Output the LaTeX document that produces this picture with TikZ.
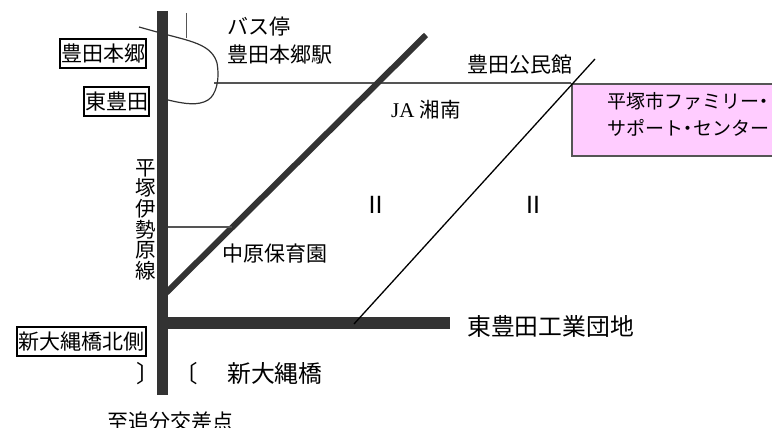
\documentclass[tikz,border=0pt]{standalone}
\usepackage{fontspec}
\setmainfont{Noto Sans CJK JP}
\newfontfamily\latinserif{Liberation Serif}
\newfontfamily\latinsans{Liberation Sans}
\definecolor{roadgray}{HTML}{333333}
\definecolor{thingray}{HTML}{555555}
\definecolor{pinkfill}{HTML}{FFCCFF}
\newcommand{\fs}[1]{\fontsize{#1}{#1}\selectfont}
\newcommand{\narrowdot}{\makebox[10pt]{・}}
\tikzset{
  road/.style={draw=roadgray,line width=11.5pt},
  midroad/.style={draw=roadgray,line width=6pt},
  thinroad/.style={draw=thingray,line width=1.4pt},
  railline/.style={draw=black,line width=1.3pt},
  station/.style={draw=black,line width=2pt,inner sep=0pt,fill=white,font=\fs{21}},
  lbl/.style={inner sep=0pt,anchor=west,font=\fs{21}},
  biglbl/.style={inner sep=0pt,anchor=west,font=\fs{23.8}},
  pinklbl/.style={inner sep=0pt,anchor=west,font=\fs{19}},
  marklbl/.style={inner sep=0pt,font=\latinsans\fs{25}},
  pinkbox/.style={draw=thingray,line width=1.6pt,fill=pinkfill}
}
\begin{document}
\begin{tikzpicture}[x=1pt,y=-1pt]
\clip (0,0) rectangle (772,428);
\fill[white] (0,0) rectangle (772,428);
% named points
\coordinate (vtop) at (162.5,11);
\coordinate (vbot) at (162.5,395);
\coordinate (hleft) at (157,323);
\coordinate (hright) at (450,323);
\coordinate (dstart) at (166,293);
\coordinate (dend) at (426,35);
\coordinate (tstart) at (354,324);
\coordinate (tend) at (595,59);
\coordinate (citystart) at (214,83);
\coordinate (branchstart) at (168,227);
\coordinate (branchend) at (232,227);
\coordinate (stoptop) at (186.5,13);
\coordinate (stopbot) at (186.5,38);
% pink box
\node[pinkbox,minimum width=220pt,minimum height=72pt,inner sep=0pt,anchor=north west] (fam) at (571,83) {};
\draw[thinroad] (citystart) -- (fam.north west);
% roads
\draw[midroad] (dstart) -- (dend);
\draw[thinroad] (branchstart) -- (branchend);
\draw[road] (vtop) -- (vbot);
\draw[road] (hleft) -- (hright);
\draw[thinroad,line width=1pt] (stoptop) -- (stopbot);
\draw[railline] (tstart) -- (tend);
% bus loop
\draw[draw=roadgray,line width=1.2pt] (139,27) -- (157,32);
\draw[draw=roadgray,line width=1.2pt] (168,35) .. controls (195,42) and (212,46) .. (217,63)
  .. controls (220,80) and (216,95) .. (208,100) .. controls (198,106) and (185,104) .. (168,100);
% station boxes
\node[station,minimum width=86pt,minimum height=29pt,anchor=north west] (s1) at (59,38) {豊田本郷};
\node[station,minimum width=65pt,minimum height=29pt,anchor=north west] (s2) at (83,86) {東豊田};
\node[station,minimum width=129pt,minimum height=29pt,anchor=north west] (s3) at (16,326) {新大縄橋北側};
% labels
\node[lbl] (a) at (227,27) {バス停};
\node[lbl] (b) at (227,55) {豊田本郷駅};
\node[lbl] (c) at (467,65) {豊田公民館};
\node[inner sep=0pt,anchor=west] (d) at (391,110) {{\latinserif\fs{21}JA }{\fs{20.5}湘南}};
\node[pinklbl] (e) at (607,101) {平塚市ファミリー\narrowdot};
\node[pinklbl] (f) at (607,128) {サポート\narrowdot センター};
\node[lbl] (g) at (222,254) {中原保育園};
\node[biglbl] (h) at (467,326) {東豊田工業団地};
\node[biglbl] (i) at (227,374) {新大縄橋};
\node[inner sep=0pt,font=\fs{23.5}] (j) at (148,374) {〕};
\node[inner sep=0pt,font=\fs{23.5}] (k) at (186,374) {〔};
\node[lbl] (l) at (107,422) {至追分交差点};
\node[inner sep=0pt,align=center,font=\fontsize{20.5}{20.7}\selectfont,anchor=north] (m) at (146,159) {平\\塚\\伊\\勢\\原\\線};
\node[marklbl] (n) at (375.5,205) {II};
\node[marklbl] (o) at (533,205) {II};
\end{tikzpicture}
\end{document}
